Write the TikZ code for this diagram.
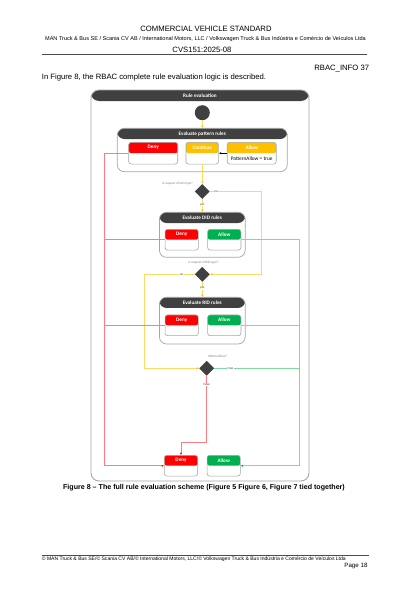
\documentclass[tikz,border=0pt]{standalone}
\usepackage{fontspec}
\setmainfont{Liberation Sans}
\newfontfamily\calibri{Carlito}
\usetikzlibrary{positioning,arrows.meta,shapes.geometric}

\definecolor{hdgray}{HTML}{404040}
\definecolor{boxgray}{HTML}{A6A6A6}
\definecolor{denyred}{HTML}{FF0000}
\definecolor{allowgreen}{HTML}{00B050}
\definecolor{contyellow}{HTML}{FFC000}
\definecolor{linered}{HTML}{FF7C80}
\definecolor{lineyellow}{HTML}{FFD966}
\definecolor{linegreen}{HTML}{7FD9A3}

\tikzset{
frame/.style = {draw=boxgray, line width=0.9pt, fill=white, rounded corners=8pt, inner sep=0pt,
  path picture={\fill[hdgray] (path picture bounding box.north west) rectangle ([yshift=-11pt]path picture bounding box.north east);}},
group/.style = {draw=boxgray, line width=0.7pt, fill=white, rounded corners=7pt, inner sep=0pt,
  path picture={\fill[hdgray] (path picture bounding box.north west) rectangle ([yshift=-10.7pt]path picture bounding box.north east);}},
state/.style = {draw=boxgray, line width=0.6pt, fill=white, rounded corners=2.5pt, inner sep=0pt,
  minimum width=33.3pt, minimum height=20.7pt,
  path picture={\fill[#1] (path picture bounding box.north west) rectangle (path picture bounding box.east);}},
wide/.style = {minimum width=49pt, minimum height=21.7pt},
choice/.style = {diamond, fill=hdgray, inner sep=0pt, minimum width=15pt, minimum height=15pt},
hdtext/.style = {font=\calibri\bfseries\fontsize{5.2}{6}\selectfont, text=white, inner sep=0pt},
bodytext/.style = {font=\calibri\fontsize{5.3}{6}\selectfont, inner sep=0pt},
qtext/.style = {font=\calibri\fontsize{3.3}{4}\selectfont, text=gray, inner sep=0.5pt},
elabel/.style = {font=\calibri\fontsize{3.3}{4}\selectfont, text=hdgray, fill=white, inner sep=0.4pt},
arr/.style = {-{Latex[length=2.3pt,width=2.3pt,color=#1]}},
rline/.style = {draw=linered, line width=0.7pt},
yline/.style = {draw=lineyellow, line width=0.7pt},
gline/.style = {draw=linegreen, line width=0.7pt}
}

\begin{document}
\begin{tikzpicture}[x=1pt,y=-1pt]
\useasboundingbox[fill=white] (0,0) rectangle (420,594);

% page header
\node[font=\fontsize{7.7}{9}\selectfont, inner sep=0pt] (stdTitle) at (206,29) {COMMERCIAL VEHICLE STANDARD};
\node[font=\fontsize{5.55}{6}\selectfont, inner sep=0pt] (stdOwners) at (205.5,38.7) {MAN Truck \& Bus SE / Scania CV AB / International Motors, LLC / Volkswagen Truck \& Bus Indústria e Comércio de Veículos Ltda};
\node[font=\fontsize{7.7}{9}\selectfont, inner sep=0pt] (stdNo) at (202,50) {CVS151:2025-08};
\draw[line width=0.8pt, black!70] (42,54) -- (367,54);
\node[font=\fontsize{7.7}{9}\selectfont, inner sep=0pt, anchor=east] (infoId) at (369.3,68.3) {RBAC\_INFO 37};
\node[font=\fontsize{7.7}{9}\selectfont, inner sep=0pt, anchor=west] (introTxt) at (41.7,77.3) {In Figure 8, the RBAC complete rule evaluation logic is described.};

% outer frame
\node[frame, minimum width=218pt, minimum height=391pt] (ruleEval) at (200,285.5) {};
\node[hdtext] (ruleEvalT) at (200,95.6) {Rule evaluation};
\node[circle, fill=hdgray, minimum size=15pt, inner sep=0pt] (start) at (202.3,112.7) {};

% pattern rules
\node[group, minimum width=170pt, minimum height=43.4pt] (patGrp) at (202.3,150) {};
\node[hdtext] (patGrpT) at (202.3,133.8) {Evaluate pattern rules};
\node[state=denyred, wide] (pDeny) at (153.2,153.2) {};
\node[state=contyellow, minimum width=32.6pt, minimum height=21.7pt] (pCont) at (202.3,153.2) {};
\node[state=contyellow, wide] (pAllow) at (251.7,153.2) {};
\node[hdtext] (pDenyT) at ([yshift=-5.4pt]pDeny.north) {Deny};
\node[hdtext] (pContT) at ([yshift=-5.4pt]pCont.north) {Continue};
\node[hdtext] (pAllowT) at ([yshift=-5.4pt]pAllow.north) {Allow};
\node[bodytext] (pAllowB) at ([yshift=5.4pt]pAllow.south) {PatternAllow = true};

% DID rules
\node[choice] (didQ) at (202.3,191.5) {};
\node[qtext, anchor=east] (didQT) at (193.5,184) {Is request of DID type?};
\node[group, minimum width=85.7pt, minimum height=45pt] (didGrp) at (202.3,234.8) {};
\node[hdtext] (didGrpT) at (202.3,217.8) {Evaluate DID rules};
\node[state=denyred] (dDeny) at (181.7,239.7) {};
\node[state=allowgreen] (dAllow) at (224.3,239.7) {};
\node[hdtext] (dDenyT) at ([yshift=-5.2pt]dDeny.north) {Deny};
\node[hdtext] (dAllowT) at ([yshift=-5.2pt]dAllow.north) {Allow};

% RID rules
\node[choice] (ridQ) at (202.3,274.3) {};
\node[qtext] (ridQT) at (203.5,262.3) {Is request of RID type?};
\node[group, minimum width=85.7pt, minimum height=46.7pt] (ridGrp) at (202.3,320.6) {};
\node[hdtext] (ridGrpT) at (202.3,302.6) {Evaluate RID rules};
\node[state=denyred] (rDeny) at (181.7,325.3) {};
\node[state=allowgreen] (rAllow) at (224.3,325.3) {};
\node[hdtext] (rDenyT) at ([yshift=-5.2pt]rDeny.north) {Deny};
\node[hdtext] (rAllowT) at ([yshift=-5.2pt]rAllow.north) {Allow};

% final decision
\node[choice] (patQ) at (206.7,368.3) {};
\node[qtext] (patQT) at (217.7,356.7) {PatternAllow?};
\node[state=denyred] (fDeny) at (181,465.7) {};
\node[state=allowgreen] (fAllow) at (223.7,465.7) {};
\node[hdtext] (fDenyT) at ([yshift=-5.2pt]fDeny.north) {Deny};
\node[hdtext] (fAllowT) at ([yshift=-5.2pt]fAllow.north) {Allow};

% bends of the connectors
\coordinate (redL) at (104,153.2);
\coordinate (grnR) at (299,239.7);
\coordinate (ylwR) at (261.7,191.5);
\coordinate (ylwL) at (144.3,274.3);
\coordinate (redB) at (206.7,442.3);

% yellow flow
\draw[yline, arr=contyellow] (start) -- (patGrp);
\draw[yline, arr=contyellow] (pCont) -- (didQ);
\draw[yline, arr=contyellow] (didQ) -- node[elabel, pos=0.45] (didYes) {yes} (didGrp);
\draw[yline, arr=contyellow] (didQ) -- node[elabel, pos=0.12] (didNo) {no} (ylwR) |- (ridQ);
\draw[yline, arr=contyellow] (ridQ) -- node[elabel, pos=0.42] (ridYes) {yes} (ridGrp);
\draw[yline, arr=contyellow] (ridQ) -- node[elabel, pos=0.26] (ridNo) {no} (ylwL) |- (patQ);
\draw[line width=0.5pt, arr=black] (pAllow) -- (pCont);

% deny paths
\draw[rline, arr=denyred] (pDeny.west) -- (redL) |- (fDeny.west);
\draw[rline] (dDeny.west) -- (dDeny.west -| redL);
\draw[rline] (rDeny.west) -- (rDeny.west -| redL);
\draw[rline, arr=denyred] (patQ) -- node[elabel, pos=0.13] (patFalse) {false} (redB) -| (fDeny);

% allow paths
\draw[gline, arr=allowgreen] (dAllow.east) -- (grnR) |- (fAllow.east);
\draw[gline] (rAllow.east) -- (rAllow.east -| grnR);
\draw[gline] (patQ) -- node[elabel, pos=0.19] (patTrue) {true} (patQ -| grnR);

% caption and footer
\node[font=\bfseries\fontsize{7.1}{8}\selectfont, inner sep=0pt] (figCap) at (204,487.3) {Figure 8 – The full rule evaluation scheme (Figure 5 Figure 6, Figure 7 tied together)};
\draw[line width=0.6pt, black!70] (42,555) -- (369,555);
\node[font=\fontsize{5.05}{6}\selectfont, inner sep=0pt, anchor=west] (footTxt) at (41.7,559) {© MAN Truck \& Bus SE/© Scania CV AB/© International Motors, LLC/© Volkswagen Truck \& Bus Indústria e Comércio de Veículos Ltda};
\node[font=\fontsize{6.2}{7}\selectfont, inner sep=0pt, anchor=east] (pageNo) at (367.7,565.7) {Page 18};
\end{tikzpicture}
\end{document}
